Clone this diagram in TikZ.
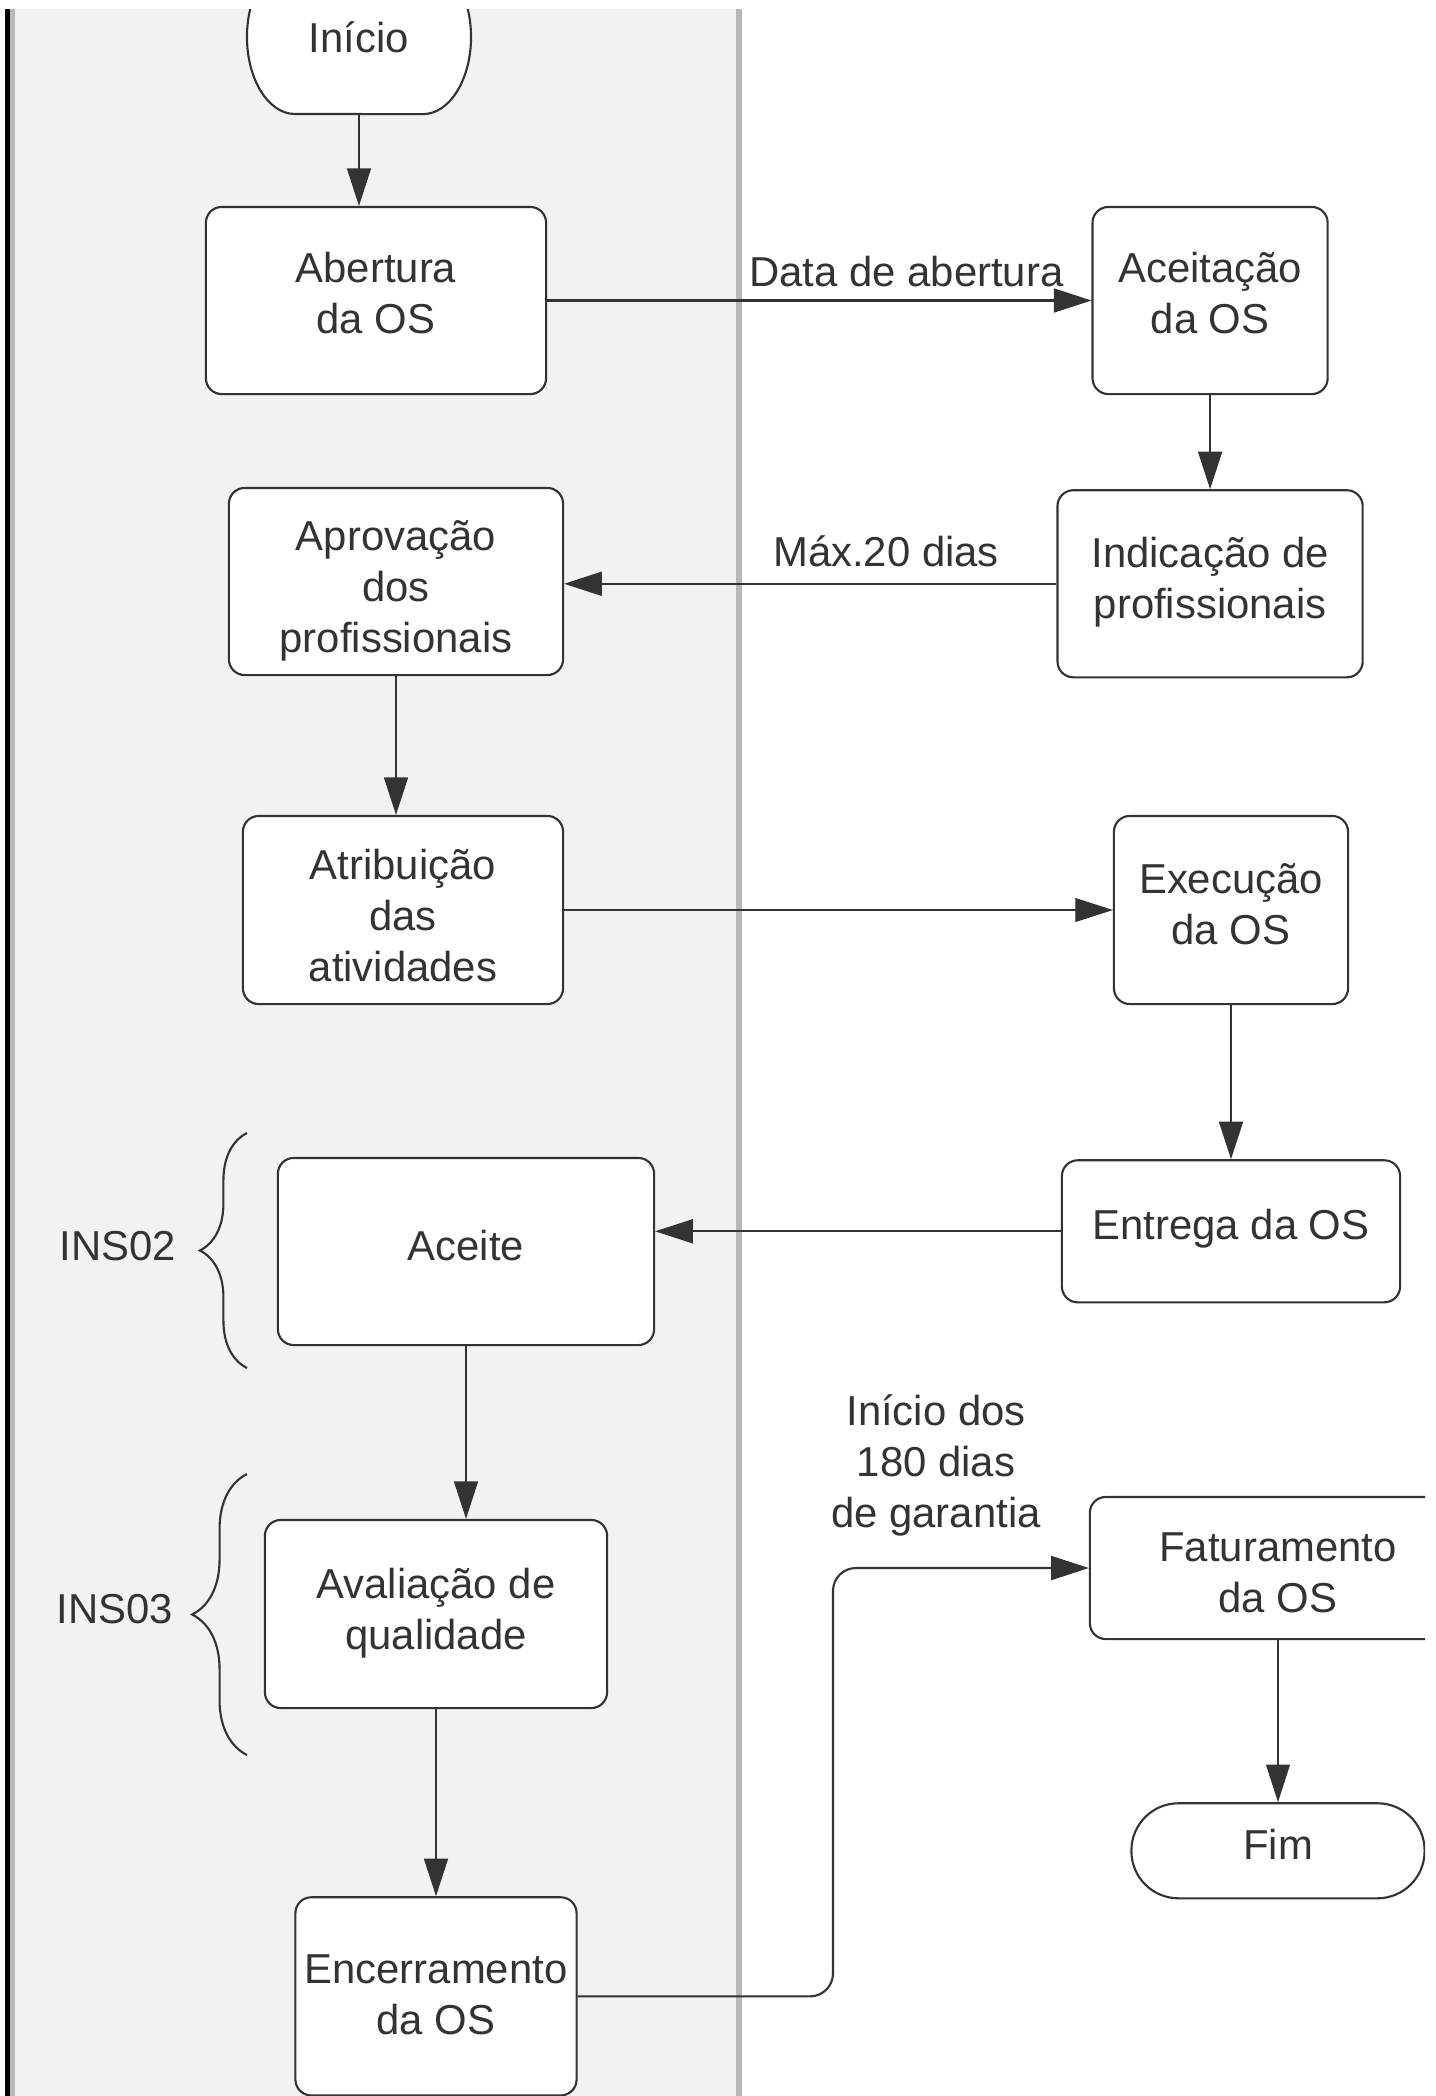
\documentclass[tikz,border=0pt]{standalone}
\usepackage{fontspec}
\setmainfont{Liberation Sans}
\usetikzlibrary{positioning}
\usetikzlibrary{arrows.meta}
\usetikzlibrary{decorations.pathreplacing}

\definecolor{inkgray}{HTML}{333333}
\definecolor{lanefill}{HTML}{F1F2F4}
\definecolor{laneline}{HTML}{B8B8B8}
\newcommand{\flowfont}{\fontsize{11.9pt}{14.5pt}\selectfont}

\begin{document}
\begin{tikzpicture}[
                x=0.01cm, y=-0.01cm,
                >={Triangle[length=10.7pt, width=6.8pt]},
                box/.style = {
                    draw=inkgray,
                    fill=white,
                    line width=0.6pt,
                    rounded corners=4.5pt,
                    align=center,
                    inner sep=0pt,
                    text=inkgray,
                    font=\flowfont,
                    minimum width=#1
                },
                box/.default = 3.4cm,
                tdown/.style = {text height=#1, text depth=0pt},
                lbl/.style = {text=inkgray, font=\flowfont, align=center, inner sep=0pt},
                flow/.style = {draw=inkgray, line width=0.6pt, ->},
                flowthin/.style = {draw=inkgray, line width=0.35pt, ->},
                brc/.style = {draw=inkgray, line width=0.6pt, decorate,
                    decoration={brace, amplitude=#1}}
            ]
            \useasboundingbox (0,0) rectangle (1436,2096);
            \fill[white] (0,0) rectangle (1436,2096);
            \clip (0,9) rectangle (1425,2096);
            % 
            % lane
            \fill[lanefill] (10,9) rectangle (739,2096);
            \fill[black] (5,9) rectangle (10,2096);
            \draw[laneline, line width=1.4pt] (12.5,9) -- (12.5,2096);
            \draw[laneline, line width=1.5pt] (739,9) -- (739,2096);
            % 
            % start terminal
            \draw[draw=inkgray, fill=white, line width=0.6pt] (295,-40) -- (423,-40)
                arc[start angle=90, end angle=-90, x radius=0.48cm, y radius=0.77cm]
                -- (295,114)
                arc[start angle=270, end angle=90, x radius=0.48cm, y radius=0.77cm] -- cycle;
            \node[lbl, minimum width=2.24cm, minimum height=1.54cm] (inicio) at (359,37) {Início};
            % 
            \node[box=3.4cm, minimum height=1.87cm, tdown=0.666cm] (abertura) at (376,300.5) {Abertura\\da OS};
            \node[box=2.35cm, minimum height=1.87cm, tdown=0.666cm, right=5.44cm of abertura] (aceitacao) {Aceitação\\da OS};
            \node[box=3.05cm, minimum height=1.87cm, tdown=0.688cm, below=0.94cm of aceitacao] (indicacao) {Indicação de\\profissionais};
            \node[box=3.34cm, minimum height=1.87cm, tdown=1.414cm] (aprovacao) at (396,581.5) {Aprovação\\dos\\profissionais};
            % 
            \node[box=3.2cm, minimum height=1.88cm, tdown=1.422cm] (atribuicao) at (403,910) {Atribuição\\das\\atividades};
            \node[box=2.34cm, minimum height=1.88cm, tdown=0.696cm] (execucao) at (1231,910) {Execução\\da OS};
            \node[box=3.38cm, minimum height=1.42cm, tdown=0.17cm, below=1.54cm of execucao] (entrega) {Entrega da OS};
            \node[box=3.76cm, minimum height=1.87cm, tdown=0.17cm] (aceite) at (466,1251.5) {Aceite};
            % 
            \node[box=3.42cm, minimum height=1.88cm, tdown=0.71cm] (avaliacao) at (436,1614) {Avaliação de\\qualidade};
            \node[box=2.81cm, minimum height=1.98cm, tdown=0.758cm, below=1.87cm of avaliacao] (encerramento) {Encerramento\\da OS};
            \node[box=3.76cm, minimum height=1.42cm, tdown=0.88cm] (faturamento) at (1278,1568) {Faturamento\\da OS};
            \node[box=2.93cm, minimum height=0.95cm, tdown=0.17cm, rounded corners=13.4pt, below=1.62cm of faturamento] (fim) {Fim};
            % 
            % instructions
            \node[lbl] (ins02) at (118,1246) {INS02};
            \node[lbl] (ins03) at (115,1609) {INS03};
            \draw[brc=13.4pt] (247,1368) -- (247,1133);
            \draw[brc=15.6pt] (247,1755) -- (247,1474);
            % 
            \draw[flow] (inicio.south) -- (inicio.south |- abertura.north);
            \draw[flow] (abertura.east) -- node[lbl, pos=0.66, above=0.13cm]{Data de abertura} (aceitacao.west);
            \draw[flow] (aceitacao.south) -- (indicacao.north);
            \draw[flow] (indicacao.west) -- node[lbl, pos=0.346, above=0.16cm]{Máx.20 dias} (indicacao.west -| aprovacao.east);
            \draw[flow] (aprovacao.south) -- (aprovacao.south |- atribuicao.north);
            \draw[flowthin] (atribuicao.east) -- (execucao.west);
            \draw[flow] (execucao.south) -- (entrega.north);
            \draw[flow] (entrega.west) -- (entrega.west -| aceite.east);
            \draw[flow] (aceite.south) -- (aceite.south |- avaliacao.north);
            \draw[flow] (avaliacao.south) -- (encerramento.north);
            % 
            \coordinate (volta) at (833,1780);
            \draw[flow, rounded corners=6.5pt] (encerramento.east) -| (volta) |- (faturamento.west);
            \node[lbl] (garantia) at (936,1465) {Início dos\\180 dias\\de garantia};
            \draw[flowthin] (faturamento.south) -- (fim.north);
            % 
        \end{tikzpicture}
\end{document}
